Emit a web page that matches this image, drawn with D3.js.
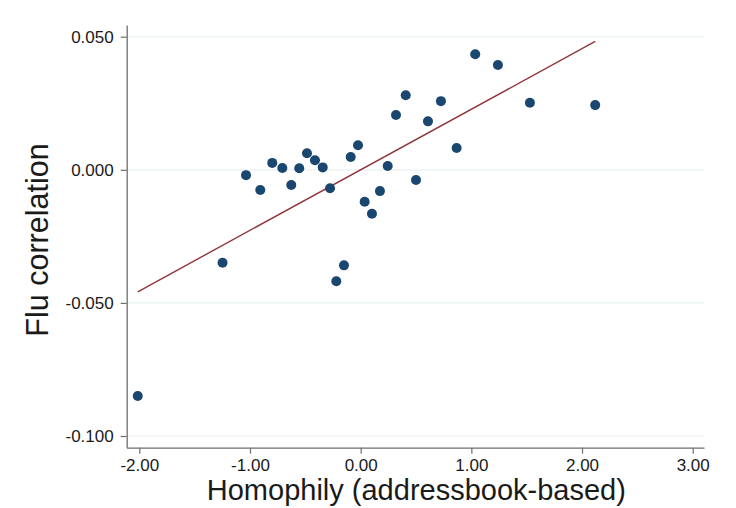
<!DOCTYPE html>
<html>
<head>
    <meta charset="utf-8">
    <title>Flu correlation vs homophily</title>
    <script src="https://d3js.org/d3.v7.min.js"></script>
    <style>
        body { margin: 0; background: #fff; }
        text { font-family: "Liberation Sans", Arial, Helvetica, sans-serif; fill: #1a1a1a; }
        .tick text { font-size: 17px; }
        .axis-title { font-size: 29px; }
    </style>
</head>
<body>
<div id="chart"></div>
<script>
// homophily (x) and flu correlation (y) for each point
const homophily = [-2.014, -1.248, -1.036, -0.907, -0.799, -0.708, -0.627, -0.555, -0.485, -0.413,
                   -0.343, -0.277, -0.220, -0.151, -0.090, -0.024, 0.036, 0.102, 0.174, 0.244,
                   0.319, 0.407, 0.500, 0.608, 0.725, 0.867, 1.035, 1.240, 1.529, 2.119];
const fluCorr = [-0.0850, -0.0349, -0.0020, -0.0076, 0.0026, 0.0007, -0.0057, 0.0006, 0.0062, 0.0036,
                 0.0009, -0.0069, -0.0419, -0.0359, 0.0048, 0.0092, -0.0120, -0.0165, -0.0080, 0.0014,
                 0.0206, 0.0280, -0.0038, 0.0182, 0.0258, 0.0082, 0.0434, 0.0394, 0.0252, 0.0243];
// linear fit (y = a + b*x), spans the x range of the points
const fitIntercept = 0.0000;
const fitSlope = 0.02275;
const xTicks = [-2, -1, 0, 1, 2, 3];
const yTicks = [-0.1, -0.05, 0, 0.05];

const W = 736, H = 508;
const margin = {top: 25, right: 32, bottom: 60.3, left: 126.7};

const svg = d3.select("#chart").append("svg")
    .attr("width", W)
    .attr("height", H);

const x = d3.scaleLinear()
    .domain([-2.114, 3.102])
    .range([margin.left, W - margin.right]);
const y = d3.scaleLinear()
    .domain([-0.1044, 0.0544])
    .range([H - margin.bottom, margin.top]);

// hyphen instead of unicode minus, like the original
const fmt = f => v => d3.format(f)(v).replace("\u2212", "-");

// gridlines
svg.append("g")
    .selectAll("line")
    .data(yTicks)
    .join("line")
    .attr("x1", x.range()[0])
    .attr("x2", x.range()[1])
    .attr("y1", d => y(d))
    .attr("y2", d => y(d))
    .attr("stroke", "#e9f1f3")
    .attr("stroke-width", 1.2);

const data = homophily.map((h, i) => ({x: h, y: fluCorr[i]}));
const xExt = d3.extent(homophily);

// fitted line
svg.append("line")
    .attr("x1", x(xExt[0]))
    .attr("y1", y(fitIntercept + fitSlope * xExt[0]))
    .attr("x2", x(xExt[1]))
    .attr("y2", y(fitIntercept + fitSlope * xExt[1]))
    .attr("stroke", "#90353b")
    .attr("stroke-width", 1.4);

// points
svg.append("g")
    .selectAll("circle")
    .data(data)
    .join("circle")
    .attr("cx", d => x(d.x))
    .attr("cy", d => y(d.y))
    .attr("r", 5)
    .attr("fill", "#1a476f");

// axes
const xAxis = svg.append("g")
    .attr("transform", `translate(0,${H - margin.bottom})`)
    .call(d3.axisBottom(x).tickValues(xTicks).tickFormat(fmt(".2f")).tickSize(6).tickSizeOuter(0).tickPadding(5));
const yAxis = svg.append("g")
    .attr("transform", `translate(${margin.left},0)`)
    .call(d3.axisLeft(y).tickValues(yTicks).tickFormat(fmt(".3f")).tickSize(6).tickSizeOuter(0).tickPadding(7));

[xAxis, yAxis].forEach(g => {
    g.attr("font-family", null).attr("font-size", null);
    g.select(".domain").attr("stroke", "#6e6e6e").attr("stroke-width", 1.3);
    g.selectAll(".tick line").attr("stroke", "#6e6e6e").attr("stroke-width", 1.2);
    g.selectAll(".tick text").attr("fill", "#1a1a1a");
});

// axis titles
svg.append("text")
    .attr("class", "axis-title")
    .attr("x", (x.range()[0] + x.range()[1]) / 2 + 1)
    .attr("y", 499.5)
    .attr("text-anchor", "middle")
    .text("Homophily (addressbook-based)");

svg.append("text")
    .attr("class", "axis-title")
    .attr("transform", "translate(48,240) rotate(-90)")
    .attr("text-anchor", "middle")
    .style("font-size", "30.5px")
    .text("Flu correlation");
</script>
</body>
</html>
